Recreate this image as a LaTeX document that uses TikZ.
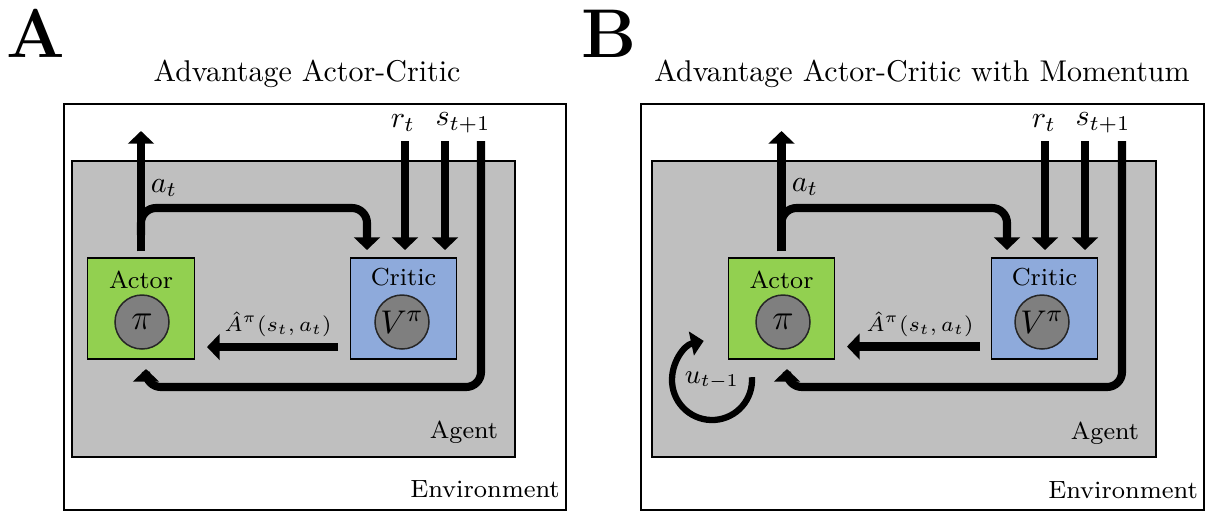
\documentclass[tikz,border=0pt]{standalone}
\usetikzlibrary{arrows.meta,fit}
\definecolor{agentgray}{HTML}{BFBFBF}
\definecolor{actorgreen}{HTML}{92D050}
\definecolor{criticblue}{HTML}{8EAADB}
\definecolor{coregray}{HTML}{7F7F7F}
\begin{document}
\begin{tikzpicture}[x=0.33333pt,y=-0.33333pt,
  envbox/.style={draw=black, line width=0.7pt, fill=white, inner sep=0pt},
  agentbox/.style={draw=black, line width=0.9pt, fill=agentgray, inner sep=0pt},
  actorbox/.style={draw=black, line width=0.4pt, fill=actorgreen, minimum width=35.5pt, minimum height=33.7pt, inner sep=0pt},
  criticbox/.style={draw=black, line width=0.4pt, fill=criticblue, minimum width=35.5pt, minimum height=33.7pt, inner sep=0pt},
  core/.style={circle, draw=black!85, line width=0.5pt, fill=coregray, minimum size=18pt, inner sep=0pt},
  flow/.style={line width=2.7pt, -{Triangle[width=8.5pt,length=4.2pt]}},
  loopflow/.style={line width=2.1pt, -{Triangle[width=8pt,length=4.2pt]}},
  turn/.style={rounded corners=5pt},
  boxlabel/.style={font=\fontsize{8.2}{9.8}\selectfont, inner sep=0pt},
  envlabel/.style={font=\fontsize{8.3}{10}\selectfont, inner sep=0pt},
  mathlabel/.style={font=\fontsize{10}{12}\selectfont, inner sep=0pt},
  smallmath/.style={font=\fontsize{7.3}{8.8}\selectfont, inner sep=0pt},
  coretext/.style={font=\fontsize{12}{14}\selectfont},
  titletext/.style={font=\fontsize{10}{12}\selectfont, anchor=base, inner sep=0pt},
  panelletter/.style={font=\fontsize{23}{27}\selectfont\bfseries, anchor=base, inner sep=0pt}]
\useasboundingbox (0,0) rectangle (1209,512);

% ================= Panel A =================
\node[panelletter] (letA) at (35.5,57) {A};
\node[titletext] (titleA) at (307,81) {Advantage Actor-Critic};
\node[envbox, fit={(64,104) (566,510)}] (envA) {};
\node[agentbox, fit={(72,161) (515,457)}] (agentA) {};
\node[envlabel] (envlabA) at (485,489) {Environment};
\node[boxlabel] (agentlabA) at (464,432) {Agent};
\node[actorbox] (actorA) at (141,308.5) {};
\node[criticbox] (criticA) at (403.5,308.5) {};
\node[boxlabel] (actorlabA) at (141,280) {Actor};
\node[boxlabel] (criticlabA) at (403.5,277) {Critic};
\node[core, coretext] (piA) at (142,322) {$\pi$};
\node[core, font=\fontsize{11}{13}\selectfont] (vA) at (402,322) {$V^{\pi}$};

\coordinate (outA) at (141,131);
\coordinate (brA) at (141,235);
\coordinate (brAend) at (367,250);
\coordinate (rtA) at (405,141);
\coordinate (rtAend) at (405,250);
\coordinate (stA) at (445,141);
\coordinate (stAend) at (445,250);
\coordinate (snA) at (481,141);
\coordinate (snAend) at (146,369);
\coordinate (advA) at (338,347);
\coordinate (advAend) at (207,347);

\draw[flow, shorten <=2pt] (actorA.north) -- (outA);
\draw[flow, turn] (brA) -- (141,208) -- (367,208) -- (brAend);
\draw[flow] (rtA) -- (rtAend);
\draw[flow] (stA) -- (stAend);
\draw[flow, turn] (snA) -- (481,387) -- (146,387) -- (snAend);
\draw[flow] (advA) -- (advAend);

\node[mathlabel] (atA) at (164,188) {$a_t$};
\node[mathlabel] (rtlabA) at (403,123) {$r_t$};
\node[mathlabel] (stlabA) at (463,123) {$s_{t+1}$};
\node[smallmath] (advlabA) at (278,324) {$\hat{A}^{\pi}(s_t,a_t)$};

% ================= Panel B =================
\node[panelletter] (letB) at (609,57) {B};
\node[titletext] (titleB) at (922,81) {Advantage Actor-Critic with Momentum};
\node[envbox, fit={(641,104) (1204,510)}] (envB) {};
\node[agentbox, fit={(652,161) (1156,457)}] (agentB) {};
\node[envlabel] (envlabB) at (1123,490) {Environment};
\node[boxlabel] (agentlabB) at (1105,433) {Agent};
\node[actorbox] (actorB) at (781.5,308.5) {};
\node[criticbox] (criticB) at (1044.5,308.5) {};
\node[boxlabel] (actorlabB) at (781.5,280) {Actor};
\node[boxlabel] (criticlabB) at (1044.5,277) {Critic};
\node[core, coretext] (piB) at (783,322) {$\pi$};
\node[core, font=\fontsize{11}{13}\selectfont] (vB) at (1042,322) {$V^{\pi}$};

\coordinate (outB) at (781.5,131);
\coordinate (brB) at (781.5,235);
\coordinate (brBend) at (1007,250);
\coordinate (rtB) at (1045,141);
\coordinate (rtBend) at (1045,250);
\coordinate (stB) at (1085,141);
\coordinate (stBend) at (1085,250);
\coordinate (snB) at (1122,141);
\coordinate (snBend) at (787,369);
\coordinate (advB) at (980,346.5);
\coordinate (advBend) at (847,346.5);
\coordinate (loopc) at (712,380);

\draw[flow, shorten <=2pt] (actorB.north) -- (outB);
\draw[flow, turn] (brB) -- (781.5,208) -- (1007,208) -- (brBend);
\draw[flow] (rtB) -- (rtBend);
\draw[flow] (stB) -- (stBend);
\draw[flow, turn] (snB) -- (1122,387) -- (787,387) -- (snBend);
\draw[flow] (advB) -- (advBend);
\draw[loopflow] ([shift={(-4:40)}]loopc) arc[start angle=-4, end angle=258, radius=40];

\node[mathlabel] (atB) at (805,187) {$a_t$};
\node[mathlabel] (rtlabB) at (1044,123) {$r_t$};
\node[mathlabel] (stlabB) at (1103,123) {$s_{t+1}$};
\node[smallmath] (advlabB) at (920,324) {$\hat{A}^{\pi}(s_t,a_t)$};
\node[font=\fontsize{9}{11}\selectfont, inner sep=0pt] (ulab) at (712,380) {$u_{t-1}$};
\end{tikzpicture}
\end{document}
